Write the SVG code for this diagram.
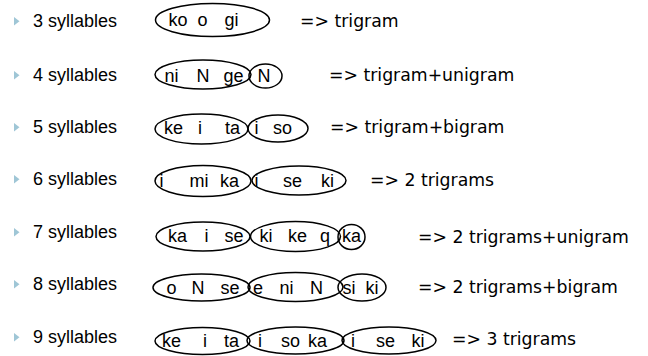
<svg xmlns="http://www.w3.org/2000/svg" width="648" height="356" viewBox="0 0 648 356">
<defs>
<style>
.lab{font-family:"Liberation Sans",Arial,sans-serif;font-size:18px;fill:#000}
.syl{font-family:"Liberation Sans",Arial,sans-serif;font-size:18px;fill:#000;text-anchor:middle}
.res{font-family:"DejaVu Sans",sans-serif;font-size:17.3px;fill:#000}
.el{fill:none;stroke:#000;stroke-width:1.5}
.bul{fill:#9fc6d6}
</style>
<polygon id="tri" class="bul" points="14,-10 14,-1.5 19.5,-5.75"/>
</defs>
<rect width="648" height="356" fill="#fff"/>

<g id="row3">
<use href="#tri" y="27"/>
<text class="lab" x="33" y="27">3 syllables</text>
<ellipse class="el" cx="212.5" cy="20" rx="57" ry="16.5"/>
<text class="syl" x="178" y="26">ko</text>
<text class="syl" x="202.5" y="26">o</text>
<text class="syl" x="231.5" y="26">gi</text>
<text class="res" x="300" y="27">=&gt; trigram</text>
</g>

<g id="row4">
<use href="#tri" y="81"/>
<text class="lab" x="33" y="81">4 syllables</text>
<ellipse class="el" cx="203" cy="74.5" rx="48" ry="14.5"/>
<ellipse class="el" cx="265.5" cy="76" rx="16.5" ry="12"/>
<text class="syl" x="171.5" y="82">ni</text>
<text class="syl" x="203" y="82">N</text>
<text class="syl" x="233.5" y="82">ge</text>
<text class="syl" x="264" y="82">N</text>
<text class="res" x="329" y="81">=&gt; trigram+unigram</text>
</g>

<g id="row5">
<use href="#tri" y="133"/>
<text class="lab" x="33" y="133">5 syllables</text>
<ellipse class="el" cx="201.5" cy="129" rx="46.5" ry="15"/>
<ellipse class="el" cx="278" cy="128.5" rx="30" ry="13.5"/>
<text class="syl" x="173.5" y="134">ke</text>
<text class="syl" x="200" y="134">i</text>
<text class="syl" x="232.5" y="134">ta</text>
<text class="syl" x="256.5" y="134">i</text>
<text class="syl" x="282.5" y="134">so</text>
<text class="res" x="330" y="133">=&gt; trigram+bigram</text>
</g>

<g id="row6">
<use href="#tri" y="185"/>
<text class="lab" x="33" y="185">6 syllables</text>
<ellipse class="el" cx="203" cy="181" rx="48" ry="15.5"/>
<ellipse class="el" cx="299" cy="180.5" rx="47" ry="14.5"/>
<text class="syl" x="161.5" y="187">i</text>
<text class="syl" x="199" y="187">mi</text>
<text class="syl" x="229.5" y="187">ka</text>
<text class="syl" x="256.5" y="187">i</text>
<text class="syl" x="292.5" y="187">se</text>
<text class="syl" x="327.5" y="187">ki</text>
<text class="res" x="370" y="186">=&gt; 2 trigrams</text>
</g>

<g id="row7">
<use href="#tri" y="238"/>
<text class="lab" x="33" y="238">7 syllables</text>
<ellipse class="el" cx="203" cy="236.5" rx="47" ry="14.5"/>
<ellipse class="el" cx="295.5" cy="236.5" rx="45" ry="15"/>
<ellipse class="el" cx="351.5" cy="237" rx="13.5" ry="12.5"/>
<text class="syl" x="177.5" y="242">ka</text>
<text class="syl" x="206.5" y="242">i</text>
<text class="syl" x="234" y="242">se</text>
<text class="syl" x="266" y="242">ki</text>
<text class="syl" x="297.5" y="242">ke</text>
<text class="syl" x="325" y="242">q</text>
<text class="syl" x="351.5" y="242">ka</text>
<text class="res" x="418" y="243">=&gt; 2 trigrams+unigram</text>
</g>

<g id="row8">
<use href="#tri" y="290"/>
<text class="lab" x="33" y="290">8 syllables</text>
<ellipse class="el" cx="201.5" cy="287.5" rx="48.5" ry="13.5"/>
<ellipse class="el" cx="295.5" cy="287" rx="47.5" ry="14.5"/>
<ellipse class="el" cx="362" cy="287.5" rx="24" ry="13.5"/>
<text class="syl" x="171.5" y="294">o</text>
<text class="syl" x="198" y="294">N</text>
<text class="syl" x="230" y="294">se</text>
<text class="syl" x="258" y="294">e</text>
<text class="syl" x="286.5" y="294">ni</text>
<text class="syl" x="316.5" y="294">N</text>
<text class="syl" x="349" y="294">si</text>
<text class="syl" x="372" y="294">ki</text>
<text class="res" x="418" y="293">=&gt; 2 trigrams+bigram</text>
</g>

<g id="row9">
<use href="#tri" y="343"/>
<text class="lab" x="33" y="343">9 syllables</text>
<ellipse class="el" cx="202.5" cy="341" rx="47.5" ry="13.5"/>
<ellipse class="el" cx="295.5" cy="340.5" rx="48.5" ry="13.5"/>
<ellipse class="el" cx="389" cy="340.5" rx="47" ry="13.5"/>
<text class="syl" x="171.5" y="347">ke</text>
<text class="syl" x="205" y="347">i</text>
<text class="syl" x="231.5" y="347">ta</text>
<text class="syl" x="260" y="347">i</text>
<text class="syl" x="290.5" y="347">so</text>
<text class="syl" x="317.5" y="347">ka</text>
<text class="syl" x="353" y="347">i</text>
<text class="syl" x="385.5" y="347">se</text>
<text class="syl" x="418" y="347">ki</text>
<text class="res" x="452" y="345">=&gt; 3 trigrams</text>
</g>
</svg>
